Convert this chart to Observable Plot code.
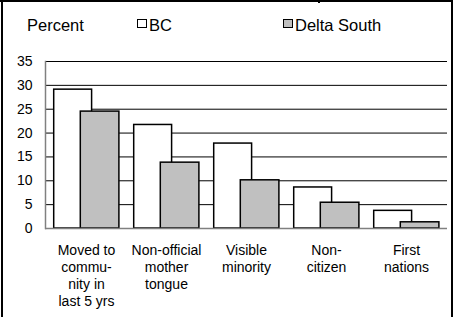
<!DOCTYPE html>
<html>
<head>
<meta charset="utf-8">
<script src="https://cdn.jsdelivr.net/npm/d3@7"></script>
<script src="https://cdn.jsdelivr.net/npm/@observablehq/plot@0.6"></script>
<style>
  html, body { margin: 0; padding: 0; background: #fff; }
  #wrap { position: relative; width: 453px; height: 317px; overflow: hidden; font-family: "Liberation Sans", Arial, sans-serif; color: #000; }
  .legend { position: absolute; left: 0; top: 0; width: 453px; height: 45px; }
  .legend span { position: absolute; font-size: 16.5px; line-height: 1; white-space: nowrap; }
  .sw { position: absolute; width: 10px; height: 9px; box-sizing: border-box; border: 1.5px solid #000; }
  #chart { position: absolute; left: 0; top: 45px; }
  .bl { position: absolute; background: #000; }
</style>
</head>
<body>
<div id="wrap">
  <div class="legend" id="legend"></div>
  <div id="chart"></div>
  <div class="bl" style="left:0;top:0;width:453px;height:2px;"></div>
  <div class="bl" style="left:318px;top:0;width:2px;height:3px;"></div>
  <div class="bl" style="left:1px;top:0;width:2px;height:317px;"></div>
  <div class="bl" style="left:451px;top:0;width:2px;height:317px;"></div>
</div>
<script>
const categories = ["Moved to community in last 5 yrs", "Non-official mother tongue", "Visible minority", "Non-citizen", "First nations"];
const tickLabels = ["Moved to\ncommu-\nnity in\nlast 5 yrs", "Non-official\nmother\ntongue", "Visible\nminority", "Non-\ncitizen", "First\nnations"];
const seriesNames = ["BC", "Delta South"];
const seriesColors = ["#ffffff", "#c0c0c0"];
const bcValues = [29.1, 21.7, 17.8, 8.6, 3.7];
const deltaSouthValues = [24.5, 13.8, 10.1, 5.4, 1.3];
const yTicks = [0, 5, 10, 15, 20, 25, 30, 35];
const yLabel = "Percent";

const bcData = categories.map((c, i) => ({category: c, value: bcValues[i]}));
const dsData = categories.map((c, i) => ({category: c, value: deltaSouthValues[i]}));

// legend
const legend = document.getElementById("legend");
function addSpan(text, left, top) {
  const s = document.createElement("span");
  s.textContent = text; s.style.left = left + "px"; s.style.top = top + "px";
  legend.appendChild(s);
}
addSpan(yLabel, 27, 17);
const swLeft = [137, 283];
seriesNames.forEach((name, i) => {
  const sw = document.createElement("div");
  sw.className = "sw"; sw.style.left = swLeft[i] + "px"; sw.style.top = "19px"; sw.style.background = seriesColors[i];
  legend.appendChild(sw);
  addSpan(name, swLeft[i] + 12, 17);
});

const chart = Plot.plot({
  width: 453, height: 272,
  marginLeft: 45, marginRight: 6, marginTop: 16, marginBottom: 89,
  style: {fontFamily: "'Liberation Sans', Arial, sans-serif", fontSize: "14px", background: "transparent", color: "#000"},
  x: {domain: categories, padding: 0, axis: null},
  y: {domain: [0, 35], axis: null},
  marks: [
    Plot.ruleY(yTicks.filter(d => d > 0), {stroke: "#000", strokeWidth: 1}),
    Plot.barY(bcData, {x: "category", y: "value", fill: seriesColors[0], stroke: "#000", strokeWidth: 1.5, insetLeft: 7.7, insetRight: 34.4}),
    Plot.barY(dsData, {x: "category", y: "value", fill: seriesColors[1], stroke: "#000", strokeWidth: 1.5, insetLeft: 34.3, insetRight: 7.1}),
    Plot.ruleY([0], {stroke: "#808080", strokeWidth: 1.5}),
    Plot.frame({anchor: "left", stroke: "#808080", strokeWidth: 1.5}),
    Plot.axisY({ticks: yTicks, tickSize: 0, tickPadding: 13, fontSize: 14, fill: "#000", label: null}),
    Plot.axisX({tickSize: 0, tickPadding: 15, tickFormat: d => tickLabels[categories.indexOf(d)], lineHeight: 1.2, fontSize: 14, fill: "#000", label: null})
  ]
});
document.getElementById("chart").appendChild(chart);
</script>
</body>
</html>
